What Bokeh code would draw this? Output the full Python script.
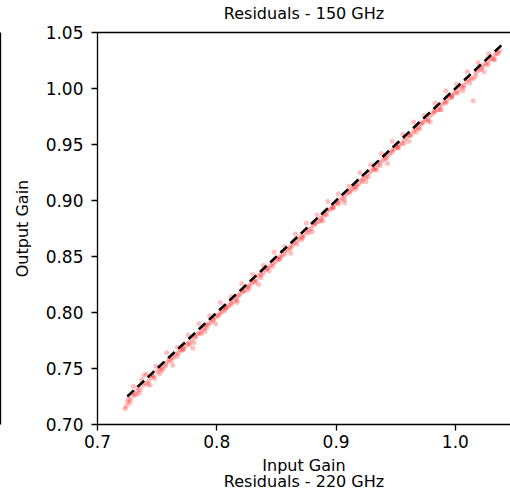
from bokeh.plotting import figure
from bokeh.models import LinearAxis, FixedTicker, NumeralTickFormatter, Range1d
from bokeh.layouts import row
from bokeh.embed import file_html
from bokeh.resources import INLINE

# ---------------- data ----------------
input_gain_a = [0.723, 0.725, 0.726, 0.728, 0.729, 0.731, 0.733, 0.734, 0.736, 0.738,
                0.740, 0.741, 0.743, 0.745, 0.746, 0.748, 0.750, 0.752, 0.753, 0.755,
                0.757, 0.759, 0.760, 0.762, 0.764, 0.766, 0.768, 0.769, 0.771, 0.773,
                0.775, 0.777, 0.779, 0.780, 0.782, 0.784, 0.786, 0.788, 0.790, 0.791,
                0.793, 0.795, 0.797, 0.799, 0.801, 0.803, 0.805, 0.806, 0.808, 0.810,
                0.812, 0.814, 0.816, 0.818, 0.819, 0.821, 0.823, 0.825, 0.827, 0.829,
                0.831, 0.833, 0.835, 0.837, 0.839, 0.841, 0.843, 0.845, 0.847, 0.849,
                0.851, 0.853, 0.855, 0.857, 0.859, 0.861, 0.863, 0.865, 0.867, 0.869,
                0.871, 0.873, 0.875, 0.877, 0.879, 0.881, 0.883, 0.885, 0.887, 0.889,
                0.891, 0.893, 0.895, 0.897, 0.899, 0.901, 0.903, 0.905, 0.907, 0.909,
                0.911, 0.913, 0.915, 0.917, 0.919, 0.921, 0.923, 0.925, 0.927, 0.929,
                0.931, 0.933, 0.935, 0.937, 0.939, 0.941, 0.943, 0.945, 0.947, 0.949,
                0.951, 0.953, 0.955, 0.957, 0.959, 0.961, 0.963, 0.965, 0.967, 0.969,
                0.971, 0.973, 0.975, 0.977, 0.979, 0.981, 0.983, 0.985, 0.987, 0.989,
                0.991, 0.993, 0.995, 0.997, 0.999, 1.001, 1.003, 1.005, 1.007, 1.009,
                1.011, 1.013, 1.015, 1.017, 1.019, 1.021, 1.023, 1.025, 1.027, 1.029,
                1.031, 1.033, 1.035, 1.037]
output_gain_a = [0.714, 0.720, 0.723, 0.722, 0.727, 0.726, 0.730, 0.733, 0.731, 0.735,
                 0.737, 0.745, 0.739, 0.742, 0.744, 0.741, 0.747, 0.749, 0.751, 0.750,
                 0.754, 0.756, 0.758, 0.757, 0.760, 0.763, 0.764, 0.767, 0.766, 0.770,
                 0.772, 0.773, 0.776, 0.768, 0.778, 0.781, 0.782, 0.785, 0.786, 0.789,
                 0.790, 0.791, 0.794, 0.796, 0.797, 0.800, 0.801, 0.804, 0.805, 0.806,
                 0.809, 0.810, 0.813, 0.815, 0.816, 0.818, 0.819, 0.823, 0.824, 0.826,
                 0.828, 0.829, 0.833, 0.834, 0.835, 0.838, 0.840, 0.842, 0.844, 0.845,
                 0.848, 0.850, 0.851, 0.855, 0.856, 0.857, 0.860, 0.862, 0.864, 0.866,
                 0.868, 0.869, 0.872, 0.874, 0.875, 0.878, 0.880, 0.881, 0.884, 0.886,
                 0.888, 0.891, 0.892, 0.893, 0.897, 0.898, 0.900, 0.902, 0.904, 0.906,
                 0.907, 0.910, 0.912, 0.914, 0.915, 0.918, 0.920, 0.921, 0.924, 0.926,
                 0.928, 0.929, 0.932, 0.934, 0.936, 0.937, 0.940, 0.942, 0.943, 0.946,
                 0.948, 0.950, 0.951, 0.954, 0.956, 0.958, 0.959, 0.962, 0.964, 0.965,
                 0.968, 0.970, 0.972, 0.973, 0.976, 0.978, 0.980, 0.981, 0.984, 0.986,
                 0.988, 0.989, 0.992, 0.994, 0.996, 0.997, 1.000, 1.002, 1.003, 1.006,
                 1.008, 1.009, 0.989, 1.014, 1.016, 1.017, 1.020, 1.022, 1.023, 1.026,
                 1.027, 1.030, 1.031, 1.034]
input_gain_b = [0.727, 0.732, 0.737, 0.742, 0.747, 0.752, 0.757, 0.762, 0.767, 0.772,
                0.777, 0.782, 0.787, 0.792, 0.797, 0.802, 0.807, 0.812, 0.817, 0.822,
                0.827, 0.832, 0.837, 0.842, 0.847, 0.852, 0.857, 0.862, 0.867, 0.872,
                0.877, 0.882, 0.887, 0.892, 0.897, 0.902, 0.907, 0.912, 0.917, 0.922,
                0.927, 0.932, 0.937, 0.942, 0.947, 0.952, 0.957, 0.962, 0.967, 0.972,
                0.977, 0.982, 0.987, 0.992, 0.997, 1.002, 1.007, 1.012, 1.017, 1.022,
                1.027, 1.032, 1.036]
output_gain_b = [0.719, 0.727, 0.740, 0.736, 0.743, 0.745, 0.752, 0.760, 0.761, 0.768,
                 0.771, 0.779, 0.781, 0.787, 0.793, 0.798, 0.802, 0.807, 0.811, 0.820,
                 0.822, 0.827, 0.831, 0.839, 0.841, 0.847, 0.852, 0.858, 0.861, 0.867,
                 0.871, 0.879, 0.882, 0.887, 0.894, 0.897, 0.901, 0.908, 0.912, 0.917,
                 0.921, 0.928, 0.931, 0.938, 0.945, 0.947, 0.951, 0.958, 0.961, 0.969,
                 0.971, 0.979, 0.981, 0.987, 0.993, 0.996, 1.001, 1.005, 1.011, 1.018,
                 1.021, 1.026, 1.032]
input_gain_c = [0.724, 0.730, 0.735, 0.739, 0.744, 0.749, 0.754, 0.758, 0.763, 0.767,
                0.772, 0.776, 0.781, 0.785, 0.790, 0.794, 0.799, 0.803, 0.808, 0.812,
                0.817, 0.821, 0.826, 0.830, 0.835, 0.839, 0.844, 0.848, 0.853, 0.857,
                0.862, 0.866, 0.871, 0.875, 0.880, 0.884, 0.889, 0.893, 0.898, 0.902,
                0.907, 0.911, 0.916, 0.920, 0.925, 0.929, 0.934, 0.938, 0.943, 0.947,
                0.952, 0.956, 0.961, 0.965, 0.970, 0.974, 0.979, 0.983, 0.988, 0.992,
                0.997, 1.001, 1.006, 1.010, 1.015, 1.019, 1.024, 1.028, 1.033]
output_gain_c = [0.716, 0.734, 0.728, 0.744, 0.735, 0.752, 0.748, 0.764, 0.753, 0.769,
                 0.767, 0.780, 0.773, 0.790, 0.783, 0.797, 0.790, 0.809, 0.804, 0.814,
                 0.809, 0.826, 0.820, 0.834, 0.825, 0.842, 0.837, 0.854, 0.848, 0.859,
                 0.853, 0.870, 0.865, 0.880, 0.872, 0.887, 0.882, 0.899, 0.894, 0.906,
                 0.898, 0.913, 0.910, 0.925, 0.917, 0.932, 0.927, 0.942, 0.933, 0.953,
                 0.947, 0.959, 0.953, 0.970, 0.964, 0.976, 0.970, 0.987, 0.981, 0.998,
                 0.992, 1.004, 0.998, 1.015, 1.009, 1.023, 1.015, 1.031, 1.026]
identity_x = [0.725, 1.040]
identity_y = [0.725, 1.040]
x_ticks = [0.7, 0.8, 0.9, 1.0]
y_ticks = [0.70, 0.75, 0.80, 0.85, 0.90, 0.95, 1.00, 1.05]

FONT = "DejaVu Sans"
FS = "16px"
TICK_FS = "17px"

# ---------------- narrow strip: spine of neighbouring panel ----------------
left = figure(width=6, height=493, output_backend="svg", toolbar_location=None,
              x_axis_location=None, y_axis_location=None, outline_line_color=None,
              x_range=Range1d(0, 1), y_range=Range1d(0, 1),
              min_border_left=0, min_border_right=0, min_border_top=31, min_border_bottom=0)
left.grid.visible = False
strip_axis = LinearAxis(ticker=FixedTicker(ticks=[]), axis_line_color="black", axis_line_width=1.3,
                        major_tick_out=0, major_tick_in=0, minor_tick_out=0, minor_tick_in=0,
                        major_label_standoff=0, axis_label_standoff=0,
                        major_label_text_font_size="0px")
left.add_layout(strip_axis, "left")

# ---------------- main panel ----------------
p = figure(width=504, height=493, output_backend="svg", toolbar_location=None,
           x_range=Range1d(0.7, 1.0462), y_range=Range1d(0.70, 1.05),
           x_axis_location=None, y_axis_location=None, outline_line_color=None,
           min_border_left=91, min_border_right=0, min_border_top=32, min_border_bottom=0,
           background_fill_color="white", border_fill_color="white")
p.grid.visible = False

for xs, ys in ((input_gain_a, output_gain_a), (input_gain_b, output_gain_b), (input_gain_c, output_gain_c)):
    p.scatter(xs, ys, size=5, fill_color="red", fill_alpha=0.25, line_color=None)
p.line(identity_x, identity_y, line_color="black", line_width=2.6, line_dash="9 5")

common = dict(axis_line_color="black", axis_line_width=1.3,
              major_tick_line_color="black", major_tick_line_width=1.3,
              major_tick_out=6, major_tick_in=0, minor_tick_out=0, minor_tick_in=0,
              major_label_text_font=FONT, major_label_text_font_size=TICK_FS,
              major_label_text_color="black",
              axis_label_text_font=FONT, axis_label_text_font_size=FS,
              axis_label_text_font_style="normal", axis_label_text_color="black")

yaxis = LinearAxis(ticker=FixedTicker(ticks=y_ticks), formatter=NumeralTickFormatter(format="0.00"),
                   axis_label="Output Gain", major_label_standoff=8, axis_label_standoff=11, **common)
p.add_layout(yaxis, "left")

xaxis = LinearAxis(ticker=FixedTicker(ticks=x_ticks), formatter=NumeralTickFormatter(format="0.0"),
                   axis_label="Input Gain", major_label_standoff=4, axis_label_standoff=5, **common)
p.add_layout(xaxis, "below")

# title of the next panel below, partly cut off by the page edge
next_title = LinearAxis(ticker=FixedTicker(ticks=[]), axis_line_color=None,
                        major_tick_out=0, major_tick_in=0, minor_tick_out=0, minor_tick_in=0,
                        major_label_standoff=0, major_label_text_font_size="0px",
                        axis_label="Residuals - 220 GHz", axis_label_standoff=-6,
                        axis_label_text_font=FONT, axis_label_text_font_size=FS,
                        axis_label_text_font_style="normal", axis_label_text_color="black")
p.add_layout(next_title, "below")

top_axis = LinearAxis(ticker=FixedTicker(ticks=[]), axis_line_color="black", axis_line_width=1.3,
                      major_tick_out=0, major_tick_in=0, minor_tick_out=0, minor_tick_in=0,
                      major_label_standoff=0, major_label_text_font_size="0px",
                      axis_label="Residuals - 150 GHz", axis_label_standoff=10,
                      axis_label_text_font=FONT, axis_label_text_font_size=FS,
                      axis_label_text_font_style="normal", axis_label_text_color="black")
p.add_layout(top_axis, "above")

layout = row(left, p, spacing=0)
open("out.html", "w").write(file_html(layout, INLINE))
